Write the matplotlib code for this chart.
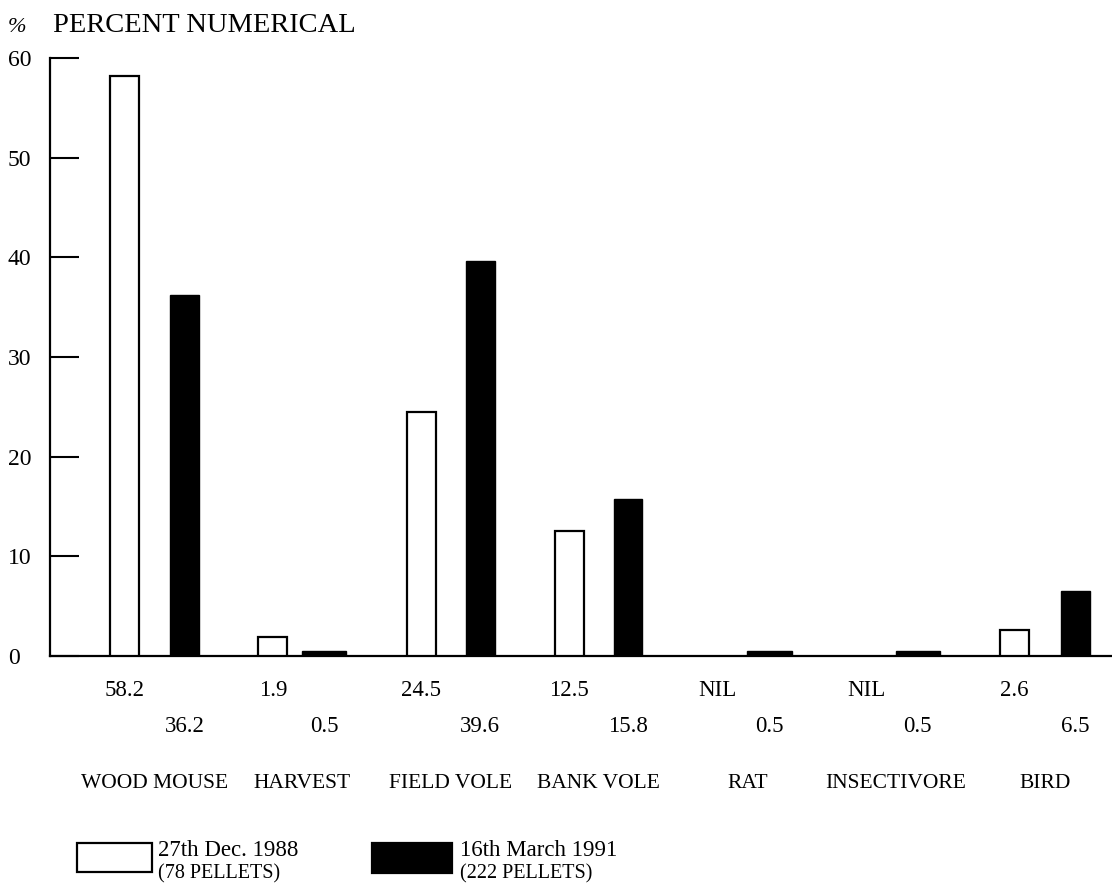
import matplotlib
matplotlib.use('Agg')
import matplotlib.pyplot as plt
from matplotlib.patches import Rectangle
import matplotlib.transforms as mtransforms

# ---------------- data ----------------
categories = ["WOOD MOUSE", "HARVEST", "FIELD VOLE", "BANK VOLE", "RAT", "INSECTIVORE", "BIRD"]
dec_1988 = [58.2, 1.9, 24.5, 12.5, 0.0, 0.0, 2.6]
mar_1991 = [36.2, 0.5, 39.6, 15.8, 0.5, 0.5, 6.5]
dec_labels = ["58.2", "1.9", "24.5", "12.5", "NIL", "NIL", "2.6"]
mar_labels = ["36.2", "0.5", "39.6", "15.8", "0.5", "0.5", "6.5"]
y_ticks = [0, 10, 20, 30, 40, 50, 60]
series_names = ["27th Dec. 1988", "16th March 1991"]
pellet_counts = ["(78 PELLETS)", "(222 PELLETS)"]

# ---------------- styles ----------------
W, H = 1112, 890
FONT = "Liberation Serif"
plt.rcParams['font.family'] = [FONT, 'DejaVu Serif']

GROUP_PX = 148.3
def u(px):
    return px / GROUP_PX

white_w = u(29)
black_off = [u(60), u(44), u(59), u(59), u(44), u(44), u(61)]
black_w = [u(29), u(44), u(29), u(28), u(45), u(44), u(29)]

fig = plt.figure(figsize=(W / 100, H / 100), dpi=100)
ax = fig.add_axes([50 / W, 1 - 656 / H, 1 - 50 / W, (656 - 58) / H])

x = list(range(len(categories)))
wx = [xi for xi in x]
bx = [xi + o for xi, o in zip(x, black_off)]

for xi, v in zip(wx, dec_1988):
    if v > 0:
        ax.bar(xi, v, width=white_w, align='edge', facecolor='white',
               edgecolor='black', linewidth=1.6, zorder=3)
for xi, v, w in zip(bx, mar_1991, black_w):
    ax.bar(xi, v, width=w, align='edge', facecolor='black',
           edgecolor='black', linewidth=1.0, zorder=3)

ax.set_xlim(-u(110 - 50), u(1112 - 110))
ax.set_ylim(0, 60)
ax.set_xticks([])
ax.set_yticks(y_ticks)
ax.set_yticklabels([str(t) for t in y_ticks], fontsize=17, ha='left')
ax.tick_params(axis='y', direction='in', length=21, width=1.5, pad=30.5)
for s in ['top', 'right']:
    ax.spines[s].set_visible(False)
ax.spines['left'].set_linewidth(1.6)
ax.spines['bottom'].set_linewidth(1.6)
ax.patch.set_alpha(0)

# value labels under bars
tr = mtransforms.blended_transform_factory(ax.transData, fig.transFigure)
for xi, lab in zip(wx, dec_labels):
    ax.text(xi + white_w / 2, 1 - 690 / H, lab, transform=tr, ha='center',
            va='center', fontsize=16.5, clip_on=False)
for xi, w, lab in zip(bx, black_w, mar_labels):
    ax.text(xi + w / 2, 1 - 727 / H, lab, transform=tr, ha='center',
            va='center', fontsize=16.5, clip_on=False)
for xi, bxi, w, cat in zip(wx, bx, black_w, categories):
    ax.text((xi + bxi + w) / 2, 1 - 783 / H, cat, transform=tr, ha='center',
            va='center', fontsize=15.5, clip_on=False)

# title
fig.text(8 / W, 1 - 27 / H, "%", fontsize=16, ha='left', va='center', style='italic')
fig.text(53 / W, 1 - 25 / H, "PERCENT NUMERICAL", fontsize=20.5, ha='left', va='center')

# legend
def box(x0, x1, y0, y1, fc):
    r = Rectangle((x0 / W, 1 - y1 / H), (x1 - x0) / W, (y1 - y0) / H,
                  transform=fig.transFigure, facecolor=fc, edgecolor='black',
                  linewidth=1.6)
    fig.patches.append(r)

box(77, 152, 843, 872, 'white')
box(372, 452, 843, 873, 'black')
fig.text(158 / W, 1 - 851 / H, series_names[0], fontsize=16.5, ha='left', va='center')
fig.text(158 / W, 1 - 874 / H, pellet_counts[0], fontsize=14.5, ha='left', va='center')
fig.text(460 / W, 1 - 851 / H, series_names[1], fontsize=16.5, ha='left', va='center')
fig.text(460 / W, 1 - 874 / H, pellet_counts[1], fontsize=14.5, ha='left', va='center')

fig.savefig("out.png", dpi=100)
